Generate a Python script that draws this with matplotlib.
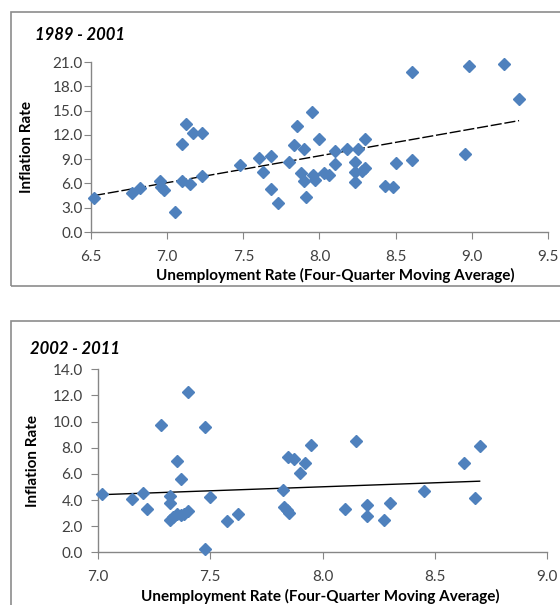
import numpy as np
import matplotlib.pyplot as plt
from matplotlib.patches import Rectangle
from matplotlib.ticker import FormatStrFormatter

plt.rcParams['font.family'] = ['Lato', 'DejaVu Sans']

# 1989 - 2001 panel
top_x = [6.52, 6.77, 6.82, 6.95, 6.96, 6.98, 7.05, 7.10, 7.10, 7.125, 7.15, 7.17, 7.23, 7.23,
         7.48, 7.60, 7.63, 7.68, 7.68, 7.73, 7.80, 7.83, 7.85, 7.90, 7.88, 7.90, 7.91, 7.95,
         7.96, 7.97, 8.00, 8.03, 8.06, 8.10, 8.10, 8.18, 8.23, 8.23, 8.23, 8.25, 8.28, 8.30,
         8.30, 8.43, 8.48, 8.50, 8.605, 8.605, 8.955, 8.98, 9.21, 9.31]
top_y = [4.2, 4.8, 5.4, 6.3, 5.55, 5.2, 2.5, 10.9, 6.3, 13.4, 5.95, 12.2, 12.2, 6.9,
         8.3, 9.1, 7.45, 9.35, 5.3, 3.6, 8.7, 10.8, 13.1, 10.2, 7.3, 6.35, 4.35, 14.8,
         7.1, 6.4, 11.55, 7.3, 7.1, 9.95, 8.4, 10.3, 8.7, 7.4, 6.15, 10.25, 7.5, 7.9,
         11.45, 5.65, 5.6, 8.5, 19.8, 8.9, 9.65, 20.45, 20.75, 16.45]

# 2002 - 2011 panel
bot_x = [7.02, 7.15, 7.20, 7.22, 7.28, 7.32, 7.32, 7.32, 7.335, 7.35, 7.37, 7.385, 7.40,
         7.35, 7.37, 7.40, 7.475, 7.475, 7.50, 7.575, 7.625, 7.825, 7.83, 7.84, 7.85,
         7.845, 7.875, 7.92, 7.90, 7.95, 8.10, 8.15, 8.20, 8.20, 8.275, 8.30, 8.45,
         8.63, 8.68, 8.70]
bot_y = [4.45, 4.1, 4.5, 3.3, 9.75, 4.3, 3.8, 2.45, 2.7, 2.9, 2.85, 2.95, 3.15,
         6.95, 5.6, 12.25, 9.6, 0.25, 4.25, 2.4, 2.9, 4.8, 3.45, 3.2, 3.0,
         7.3, 7.1, 6.85, 6.1, 8.2, 3.3, 8.5, 3.6, 2.75, 2.5, 3.8, 4.7,
         6.85, 4.15, 8.15]

top_xticks = [6.5, 7.0, 7.5, 8.0, 8.5, 9.0, 9.5]
top_yticks = [0, 3, 6, 9, 12, 15, 18, 21]
bot_xticks = [7.0, 7.5, 8.0, 8.5, 9.0]
bot_yticks = [0, 2, 4, 6, 8, 10, 12, 14]

blue = '#4F81BD'
spine_col = '#868686'
txt_col = '#404040'
xlabel = 'Unemployment Rate (Four-Quarter Moving Average)'

fig = plt.figure(figsize=(5.6, 6.05), dpi=100)

# outer frames of the two chart objects (right/bottom edges run off the picture)
fig.patches.append(Rectangle((11 / 560, 1 - 286 / 605), 0.99, 274 / 605,
                             transform=fig.transFigure, fill=False, ec='#8c8c8c', lw=1.2))
fig.patches.append(Rectangle((11 / 560, -0.05), 0.99, 1 - 321 / 605 + 0.05,
                             transform=fig.transFigure, fill=False, ec='#8c8c8c', lw=1.2))

ax1 = fig.add_axes([91 / 560, 1 - 232 / 605, 457 / 560, 170 / 605])
ax2 = fig.add_axes([98 / 560, 1 - 552.3 / 605, 449 / 560, 183 / 605])


def style(ax, xt, yt, ypad):
    for s in ['top', 'right']:
        ax.spines[s].set_visible(False)
    for s in ['left', 'bottom']:
        ax.spines[s].set_color(spine_col)
        ax.spines[s].set_linewidth(1.0)
    ax.set_xticks(xt)
    ax.set_yticks(yt)
    ax.set_xlim(xt[0], xt[-1])
    ax.set_ylim(yt[0], yt[-1])
    ax.xaxis.set_major_formatter(FormatStrFormatter('%.1f'))
    ax.yaxis.set_major_formatter(FormatStrFormatter('%.1f'))
    ax.tick_params(axis='x', direction='out', length=5, color=spine_col, pad=8,
                   labelsize=11, labelcolor=txt_col)
    ax.tick_params(axis='y', direction='out', length=5, color=spine_col, pad=ypad,
                   labelsize=11, labelcolor=txt_col)
    ax.set_xlabel(xlabel, fontsize=11, fontweight='bold')
    ax.set_ylabel('Inflation Rate', fontsize=11, fontweight='bold')


style(ax1, top_xticks, top_yticks, 1)
style(ax2, bot_xticks, bot_yticks, 6)

# label placement in pixels, converted to axes fractions
ax1.xaxis.set_label_coords((335 - 91) / 457, -(275 - 232) / 170)
ax1.yaxis.set_label_coords(-(91 - 27) / 457, 0.5)
ax2.xaxis.set_label_coords((320 - 98) / 449, -(596 - 552.3) / 183)
ax2.yaxis.set_label_coords(-(98 - 33) / 449, 0.5)
ax1.xaxis.label.set_va('center')
ax2.xaxis.label.set_va('center')
ax1.yaxis.label.set_va('center')
ax2.yaxis.label.set_va('center')

ax1.plot(top_x, top_y, 'D', color=blue, ms=6.3, mec=blue, clip_on=False, zorder=3)
ax2.plot(bot_x, bot_y, 'D', color=blue, ms=6.3, mec=blue, clip_on=False, zorder=3)

# linear trend lines
k1 = np.polyfit(top_x, top_y, 1)
tx = np.array([min(top_x), max(top_x)])
ax1.plot(tx, np.polyval(k1, tx), color='black', lw=1.0, ls=(0, (8, 2)), zorder=2)
k2 = np.polyfit(bot_x, bot_y, 1)
bx = np.array([min(bot_x), max(bot_x)])
ax2.plot(bx, np.polyval(k2, bx), color='black', lw=1.0, zorder=2)

fig.text(35 / 560, 1 - 35 / 605, '1989 - 2001', fontsize=12, fontweight='bold',
         fontstyle='italic', va='center', ha='left')
fig.text(30 / 560, 1 - 349 / 605, '2002 - 2011', fontsize=12, fontweight='bold',
         fontstyle='italic', va='center', ha='left')

fig.savefig('out.png', dpi=100)
